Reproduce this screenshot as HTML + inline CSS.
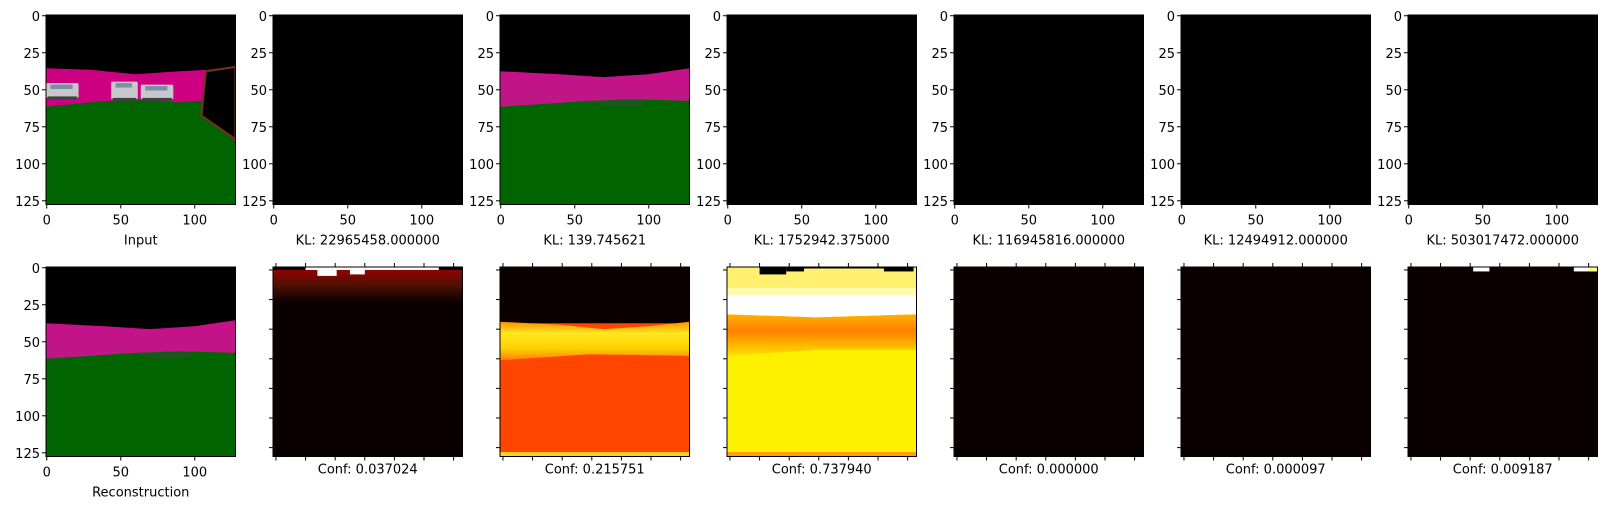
<!DOCTYPE html>
<html><head><meta charset="utf-8"><style>
body{margin:0;background:#fff;}
svg{display:block;font-family:"DejaVu Sans","Liberation Sans",sans-serif;}
</style></head><body>
<svg id="fig" width="1609" height="509" viewBox="0 0 1609 509" xmlns="http://www.w3.org/2000/svg"></svg>
<script>
const klValues = ["22965458.000000","139.745621","1752942.375000","116945816.000000","12494912.000000","503017472.000000"];
const confValues = ["0.037024","0.215751","0.737940","0.000000","0.000097","0.009187"];
const imgTicks = [0,25,50,75,100,125];
const imgXTicks = [0,50,100];
const heatTicks = [0,5,10,15,20,25,30];

const NS="http://www.w3.org/2000/svg";
const svg=document.getElementById('fig');
const colX=[46,273,500,727,954,1181,1408];
const rowY=[15,267];
const S=189.5;
const FS=13;
function el(tag,attrs,parent){const e=document.createElementNS(NS,tag);for(const k in attrs)e.setAttribute(k,attrs[k]);(parent||svg).appendChild(e);return e;}
function txt(x,y,s,anchor,parent){const t=el('text',{x:x,y:y,'font-size':FS,fill:'#000','text-anchor':anchor||'middle'},parent);t.textContent=s;return t;}

function panel(ci,ri,name){
  const g=el('g',{transform:`translate(${colX[ci]},${rowY[ri]})`});
  
  
  const clip=el('clipPath',{id:'c'+ci+ri},g);el('rect',{x:0,y:0,width:S,height:S},clip);
  const inner=el('g',{'clip-path':`url(#c${ci}${ri})`},g);
  const u=el('g',{transform:`scale(${S/128})`},inner);
  return {g,u};
}
function frame(g){el('rect',{x:0,y:0,width:S,height:S,fill:'none',stroke:'#000','stroke-width':1},g);}
function imgAxes(g){
  imgTicks.forEach(v=>{const y=(v+0.5)*S/128;el('line',{x1:-4,x2:0,y1:y,y2:y,stroke:'#000'},g);txt(-6,y+5,String(v),'end',g);});
  imgXTicks.forEach(v=>{const x=(v+0.5)*S/128;el('line',{x1:x,x2:x,y1:S,y2:S+4,stroke:'#000'},g);txt(x,S+20,String(v),'middle',g);});
}
function heatAxes(g){
  heatTicks.forEach(v=>{const p=(v+0.5)*S/32;
    el('line',{x1:-4,x2:0,y1:p,y2:p,stroke:'#000'},g);
    el('line',{x1:p,x2:p,y1:S,y2:S+4,stroke:'#000'},g);
    el('line',{x1:p,x2:p,y1:0,y2:-4,stroke:'#000'},g);});
}
function recon(u,id){
  el('rect',{x:0,y:0,width:128,height:128,fill:'#000'},u);
  const d=el('defs',{},u);
  const lg=el('linearGradient',{id:id,x1:0,y1:0,x2:0,y2:1},d);
  el('stop',{offset:'0','stop-color':'#c8108a'},lg);el('stop',{offset:'0.55','stop-color':'#b02080'},lg);el('stop',{offset:'1','stop-color':'#8a2868'},lg);
  el('path',{d:'M0 38 L40 40 L70 42 L100 40 L128 36 L128 128 L0 128Z',fill:`url(#${id})`},u);
  el('path',{d:'M0 62 L30 60 L60 58 L90 57 L128 58 L128 128 L0 128Z',fill:'#006400'},u);
  el('path',{d:'M60 58 L90 57 L100 58 L95 62 L70 62Z',fill:'#2a5030',opacity:0.5},u);
}

// Row 1
let p=panel(0,0,'input-image');
el('rect',{x:0,y:0,width:128,height:128,fill:'#000'},p.u);
el('path',{d:'M0 36 L30 37 L60 40 L90 38 L110 37 L128 36 L128 128 L0 128Z',fill:'#cc0080'},p.u);
el('path',{d:'M0 62 L30 59 L60 57 L90 59 L105 58 L128 86 L128 128 L0 128Z',fill:'#006400'},p.u);
el('path',{d:'M108 38 L128 35 L128 84 L105 68Z',fill:'#000',stroke:'#6b3418','stroke-width':1.5},p.u);
[[0,46,22,10],[44,45,18,12],[64,47,22,10]].forEach(c=>{el('rect',{x:c[0],y:c[1],width:c[2],height:c[3],fill:'#c8c8cc',rx:1},p.u);el('rect',{x:c[0]+3,y:c[1]+1,width:c[2]-7,height:3,fill:'#7890a8'},p.u);el('rect',{x:c[0]+1,y:c[1]+c[3]-1,width:c[2]-2,height:2,fill:'#404040'},p.u);});
frame(p.g);imgAxes(p.g);txt(S/2,S+40,'Input','middle',p.g);
for(let i=1;i<7;i++){
  p=panel(i,0,'prior-image-'+i);
  if(i===2){recon(p.u,'rg1');}else{el('rect',{x:0,y:0,width:128,height:128,fill:'#000'},p.u);}
  frame(p.g);imgAxes(p.g);
  const t=txt(S/2,S+40,'KL: '+klValues[i-1],'middle',p.g);
  
  
}
// Row 2
p=panel(0,1,'reconstruction-image');recon(p.u,'rg2');frame(p.g);imgAxes(p.g);txt(S/2,S+40,'Reconstruction','middle',p.g);
const dark='#0b0000';
for(let i=1;i<7;i++){
  p=panel(i,1,'confidence-heatmap-'+i);const u=p.u;
  el('rect',{x:0,y:0,width:128,height:128,fill:dark},u);
  if(i===1){
    const d=el('defs',{},u);const lg=el('linearGradient',{id:'h1',x1:0,y1:0,x2:0,y2:1},d);
    el('stop',{offset:'0','stop-color':'#a00000'},lg);el('stop',{offset:'0.5','stop-color':'#501000'},lg);el('stop',{offset:'1','stop-color':dark},lg);
    el('rect',{x:0,y:0,width:128,height:24,fill:'url(#h1)'},u);
    el('rect',{x:0,y:0,width:128,height:2,fill:'#000'},u);
    el('rect',{x:22,y:0,width:44,height:2,fill:'#fff'},u);el('rect',{x:30,y:2,width:13,height:4,fill:'#fff'},u);
    el('rect',{x:52,y:2,width:10,height:3,fill:'#fff'},u);el('rect',{x:62,y:0,width:50,height:2,fill:'#fff'},u);
  } else if(i===2){
    el('rect',{x:0,y:38,width:128,height:90,fill:'#ff4500'},u);
    const d=el('defs',{},u);const lg=el('linearGradient',{id:'h2',x1:0,y1:0,x2:0,y2:1},d);
    el('stop',{offset:'0','stop-color':'#ff9000'},lg);el('stop',{offset:'0.3','stop-color':'#ffe820'},lg);el('stop',{offset:'0.7','stop-color':'#ffd000'},lg);el('stop',{offset:'1','stop-color':'#ff8000'},lg);
    el('path',{d:'M0 37 L40 39 L70 42 L100 40 L128 37 L128 60 L60 59 L0 63Z',fill:'url(#h2)'},u);
    el('rect',{x:0,y:125,width:128,height:3,fill:'#ffd020'},u);
  } else if(i===3){
    el('rect',{x:0,y:0,width:128,height:128,fill:'#fff000'},u);
    el('rect',{x:0,y:0,width:128,height:14,fill:'#fff070'},u);
    el('rect',{x:0,y:14,width:128,height:5,fill:'#fffab0'},u);
    el('path',{d:'M0 19 L128 19 L128 32 L60 34 L0 32Z',fill:'#fff'},u);
    const d=el('defs',{},u);const lg=el('linearGradient',{id:'h3',x1:0,y1:0,x2:0,y2:1},d);
    el('stop',{offset:'0','stop-color':'#ffb000'},lg);el('stop',{offset:'0.4','stop-color':'#ff8000'},lg);el('stop',{offset:'0.8','stop-color':'#ffc000'},lg);el('stop',{offset:'1','stop-color':'#ffe000'},lg);
    el('path',{d:'M0 32 L60 34 L128 32 L128 56 L60 56 L0 60Z',fill:'url(#h3)'},u);
    el('rect',{x:0,y:125,width:128,height:3,fill:'#ffa000'},u);
    el('rect',{x:22,y:0,width:18,height:5,fill:'#000'},u);el('rect',{x:40,y:0,width:12,height:3,fill:'#000'},u);
    el('rect',{x:52,y:0,width:70,height:1,fill:'#000'},u);el('rect',{x:106,y:0,width:20,height:3,fill:'#000'},u);
  } else if(i===6){
    el('rect',{x:44,y:0,width:11,height:3,fill:'#fff'},u);el('rect',{x:112,y:0,width:16,height:3,fill:'#fff'},u);
    el('rect',{x:122,y:0,width:6,height:3,fill:'#ffff80'},u);
  }
  frame(p.g);heatAxes(p.g);
  const t=txt(S/2,S+17,'Conf: '+confValues[i-1],'middle',p.g);
  
  
}
</script>
</body></html>
